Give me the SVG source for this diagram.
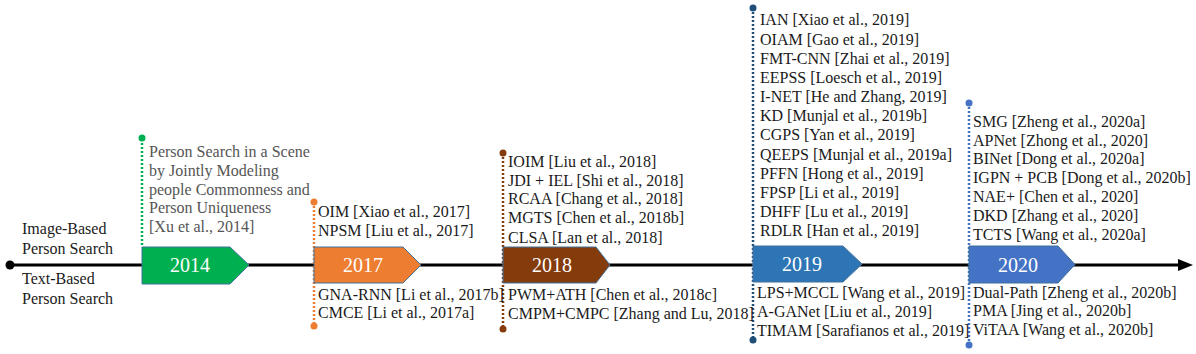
<svg xmlns="http://www.w3.org/2000/svg" width="1196" height="354" viewBox="0 0 1196 354">
<style>
.t{font-family:'Liberation Serif','DejaVu Serif',serif;font-size:16px;fill:#1a1a1a;}
.g{font-family:'Liberation Serif','DejaVu Serif',serif;font-size:16px;fill:#555555;}
.y{font-family:'Liberation Serif','DejaVu Serif',serif;font-size:20px;fill:#ffffff;text-anchor:middle;}
.b{stroke:#41719C;stroke-width:1;}
.d{stroke-width:2.5;stroke-dasharray:2 2;fill:none;}
</style>
<g id="connectors">
<line x1="10" y1="265" x2="1180" y2="265" stroke="#000" stroke-width="3"/>
<path d="M1178,259 L1193,265 L1178,271 z" fill="#000"/>
<circle cx="10" cy="265" r="4.5" fill="#000"/>
<line class="d" x1="142" y1="139" x2="142" y2="247" stroke="#00B050"/>
<circle cx="142" cy="138" r="3.5" fill="#00B050"/>
<line class="d" x1="314" y1="202" x2="314" y2="326" stroke="#ED7D31"/>
<circle cx="314" cy="202" r="3.5" fill="#ED7D31"/>
<circle cx="314" cy="326" r="3.5" fill="#ED7D31"/>
<line class="d" x1="503" y1="153" x2="503" y2="329" stroke="#843C0C"/>
<circle cx="503" cy="153" r="3.5" fill="#843C0C"/>
<circle cx="503" cy="329" r="3.5" fill="#843C0C"/>
<line class="d" x1="753" y1="8" x2="753" y2="340" stroke="#1F4E79"/>
<circle cx="753" cy="8" r="3.5" fill="#1F4E79"/>
<circle cx="753" cy="340" r="3.5" fill="#1F4E79"/>
<line class="d" x1="969" y1="103" x2="969" y2="345" stroke="#4472C4"/>
<circle cx="969" cy="103" r="3.5" fill="#4472C4"/>
<circle cx="969" cy="345" r="3.5" fill="#4472C4"/>
</g>
<g id="labels">
<text class="t" x="22" y="234">Image-Based</text>
<text class="t" x="22" y="254">Person Search</text>
<text class="t" x="22" y="284">Text-Based</text>
<text class="t" x="22" y="304">Person Search</text>
</g>
<g id="y2014">
<path class="b" d="M142,247 H230 L249,265 L230,284 H142 Z" fill="#00B050"/>
<text class="y" x="190" y="272">2014</text>
<text class="g" x="149" y="157">Person Search in a Scene</text>
<text class="g" x="149" y="176">by Jointly Modeling</text>
<text class="g" x="149" y="195">people Commonness and</text>
<text class="g" x="149" y="213">Person Uniqueness</text>
<text class="g" x="149" y="232">[Xu et al., 2014]</text>
</g>
<g id="y2017">
<path class="b" d="M314,247 H403 L421,265 L403,283 H314 Z" fill="#ED7D31"/>
<text class="y" x="363" y="272">2017</text>
<text class="t" x="318" y="217">OIM [Xiao et al., 2017]</text>
<text class="t" x="318" y="236">NPSM [Liu et al., 2017]</text>
<text class="t" x="318" y="300">GNA-RNN [Li et al., 2017b]</text>
<text class="t" x="318" y="318">CMCE [Li et al., 2017a]</text>
</g>
<g id="y2018">
<path class="b" d="M503,247 H596 L610,265 L596,283 H503 Z" fill="#843C0C"/>
<text class="y" x="552" y="272">2018</text>
<text class="t" x="508" y="167">IOIM [Liu et al., 2018]</text>
<text class="t" x="508" y="186">JDI + IEL [Shi et al., 2018]</text>
<text class="t" x="508" y="204">RCAA [Chang et al., 2018]</text>
<text class="t" x="508" y="223">MGTS [Chen et al., 2018b]</text>
<text class="t" x="508" y="243">CLSA [Lan et al., 2018]</text>
<text class="t" x="508" y="300">PWM+ATH [Chen et al., 2018c]</text>
<text class="t" x="508" y="319">CMPM+CMPC [Zhang and Lu, 2018]</text>
</g>
<g id="y2019">
<path class="b" d="M753,246 H843 L862,264 L843,282 H753 Z" fill="#2E75B6"/>
<text class="y" x="802" y="271">2019</text>
<text class="t" x="760" y="25">IAN [Xiao et al., 2019]</text>
<text class="t" x="760" y="45">OIAM [Gao et al., 2019]</text>
<text class="t" x="760" y="64">FMT-CNN [Zhai et al., 2019]</text>
<text class="t" x="760" y="83">EEPSS [Loesch et al., 2019]</text>
<text class="t" x="760" y="102">I-NET [He and Zhang, 2019]</text>
<text class="t" x="760" y="121">KD [Munjal et al., 2019b]</text>
<text class="t" x="760" y="140">CGPS [Yan et al., 2019]</text>
<text class="t" x="760" y="160">QEEPS [Munjal et al., 2019a]</text>
<text class="t" x="760" y="179">PFFN [Hong et al., 2019]</text>
<text class="t" x="760" y="198">FPSP [Li et al., 2019]</text>
<text class="t" x="760" y="217">DHFF [Lu et al., 2019]</text>
<text class="t" x="760" y="236">RDLR [Han et al., 2019]</text>
<text class="t" x="757" y="298">LPS+MCCL [Wang et al., 2019]</text>
<text class="t" x="757" y="317">A-GANet [Liu et al., 2019]</text>
<text class="t" x="757" y="336">TIMAM [Sarafianos et al., 2019]</text>
</g>
<g id="y2020">
<path class="b" d="M969,246 H1058 L1075,264.5 L1058,283 H969 Z" fill="#4472C4"/>
<text class="y" x="1018" y="272">2020</text>
<text class="t" x="973" y="127">SMG [Zheng et al., 2020a]</text>
<text class="t" x="973" y="146">APNet [Zhong et al., 2020]</text>
<text class="t" x="973" y="164">BINet [Dong et al., 2020a]</text>
<text class="t" x="973" y="183">IGPN + PCB [Dong et al., 2020b]</text>
<text class="t" x="973" y="202">NAE+ [Chen et al., 2020]</text>
<text class="t" x="973" y="221">DKD [Zhang et al., 2020]</text>
<text class="t" x="973" y="240">TCTS [Wang et al., 2020a]</text>
<text class="t" x="973" y="298">Dual-Path [Zheng et al., 2020b]</text>
<text class="t" x="973" y="316">PMA [Jing et al., 2020b]</text>
<text class="t" x="973" y="335">ViTAA [Wang et al., 2020b]</text>
</g>
</svg>
